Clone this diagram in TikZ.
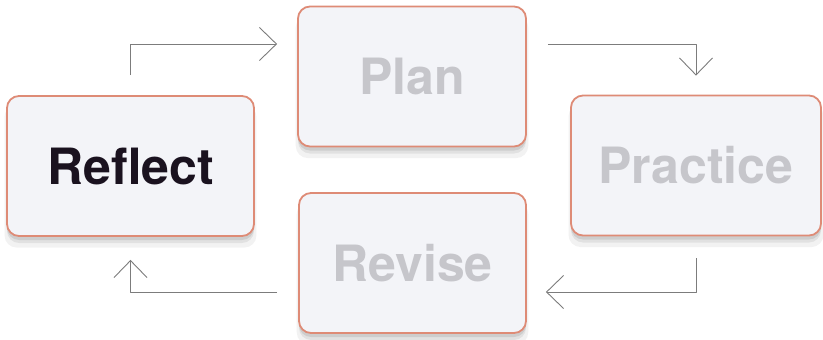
\documentclass[tikz,border=0pt]{standalone}
\usepackage{fontspec}
\setmainfont{TeX Gyre Heros}
\usetikzlibrary{arrows.meta, shadows}

\definecolor{boxfill}{HTML}{F3F4F8}
\definecolor{boxedge}{HTML}{DE8B76}
\definecolor{fadedtext}{HTML}{C6C6CB}
\definecolor{darktext}{HTML}{1A121F}
\definecolor{linkgray}{HTML}{7C7C7C}

\begin{document}
\begin{tikzpicture}[
            x = 1pt, y = -1pt, % pixel-like units, y pointing down
            > = {Straight Barb[length=17pt, width=33pt]}, % open arrow head
            line join = round
        ]

        \tikzstyle{stage}=[
            draw = boxedge,
            line width = 1.8pt,
            fill = boxfill,
            rounded corners = 12pt,
            minimum height = 140pt,
            font = \fontsize{50}{60}\selectfont\bfseries,
            text = fadedtext,
            % soft shadow below the box
            drop shadow = {shadow xshift=0pt, shadow yshift=-10pt, shadow scale=1.02, opacity=0.05, fill=black},
            drop shadow = {shadow xshift=0pt, shadow yshift=-7pt, opacity=0.07, fill=black},
            drop shadow = {shadow xshift=0pt, shadow yshift=-4pt, opacity=0.09, fill=black}
        ]
        \tikzstyle{link}=[
            ->, draw = linkgray, line width = 0.9pt
        ]

        \useasboundingbox (0,0) rectangle (823,340);

        \node[stage, minimum width=247pt, text=darktext] (reflect) at (130.5,166) {Reflect};
        \node[stage, minimum width=228pt] (plan) at (412,76.5) {Plan};
        \node[stage, minimum width=250pt] (practice) at (696,165.5) {Practice};
        \node[stage, minimum width=227pt] (revise) at (412.5,263) {Revise};

        \draw[link, shorten <=20pt, shorten >=20pt] (reflect.north) |- (plan.west |- 0,44);
        \draw[link, shorten <=21pt, shorten >=19pt] (plan.east |- 0,44) -| (practice.north);
        \draw[link, shorten <=22pt, shorten >=19pt] (practice.south) |- (revise.east |- 0,292);
        \draw[link, shorten <=21pt, shorten >=23pt] (revise.west |- 0,292) -| (reflect.south);


        %\draw[red] (0,0) rectangle (823,340);
    \end{tikzpicture}
\end{document}
